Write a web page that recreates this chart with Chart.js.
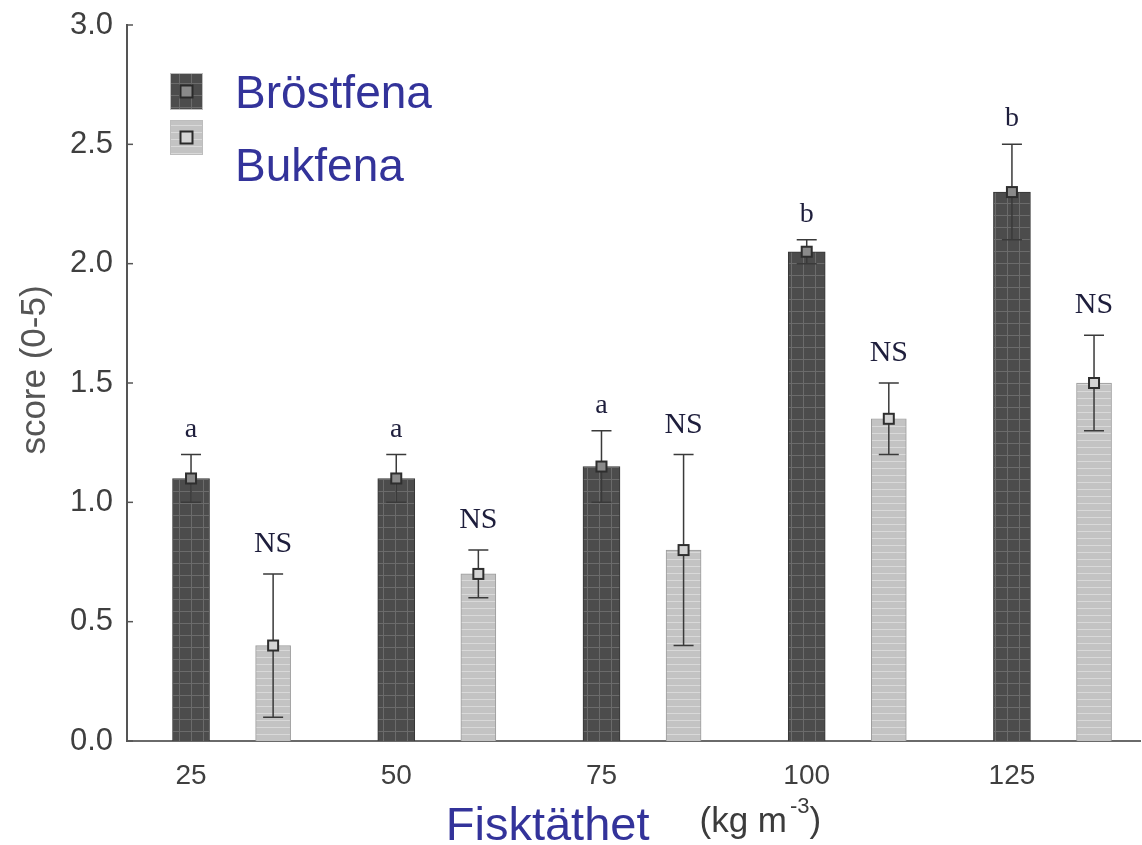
<!DOCTYPE html>
<html>
<head>
<meta charset="utf-8">
<script src="https://cdn.jsdelivr.net/npm/chart.js@4/dist/chart.umd.min.js"></script>
<style>
  html, body { margin: 0; padding: 0; background: #fff; }
  #chart { display: block; }
</style>
</head>
<body>
<canvas id="chart" width="1142" height="845"></canvas>
<script>
// fish density (kg m-3)
const densities = [25, 50, 75, 100, 125];

// pectoral fin (Bröstfena)
const brostMean = [1.1, 1.1, 1.15, 2.05, 2.3];
const brostLow = [1.0, 1.0, 1.0, 2.0, 2.1];
const brostHigh = [1.2, 1.2, 1.3, 2.1, 2.5];
const brostLetters = ["a", "a", "a", "b", "b"];

// pelvic fin (Bukfena)
const bukMean = [0.4, 0.7, 0.8, 1.35, 1.5];
const bukLow = [0.1, 0.6, 0.4, 1.2, 1.3];
const bukHigh = [0.7, 0.8, 1.2, 1.5, 1.7];
const bukLetters = ["NS", "NS", "NS", "NS", "NS"];

const yTicks = [0, 0.5, 1.0, 1.5, 2.0, 2.5, 3.0];

const LIGHT_SHIFT = 10; // pelvic bar sits a bit right of the pectoral one
const BLUE = "#33339a";
const SANS = "'Liberation Sans', Arial, sans-serif";

function makePattern(base, line, size, grid) {
    const c = document.createElement("canvas");
    c.width = size;
    c.height = size;
    const g = c.getContext("2d");
    g.fillStyle = base;
    g.fillRect(0, 0, size, size);
    g.fillStyle = line;
    g.fillRect(0, size - 1, size, 1);
    if (grid) g.fillRect(size - 1, 0, 1, size);
    return document.getElementById("chart").getContext("2d").createPattern(c, "repeat");
}

const darkFill = makePattern("#4c4c4c", "#6b6b6b", 12, true);
const lightFill = makePattern("#c3c3c3", "#d9d9d9", 7, false);

const markerPlugin = {
    id: "errorsAndNotes",
    afterDatasetsDraw(chart) {
        const ctx = chart.ctx;
        const y = chart.scales.y;
        const area = chart.chartArea;
        const sets = [
            { lo: brostLow, hi: brostHigh, mean: brostMean, notes: brostLetters, fill: "#8a8a8a" },
            { lo: bukLow, hi: bukHigh, mean: bukMean, notes: bukLetters, fill: "#d4d4d4" },
        ];

        // small inward ticks on the y axis
        ctx.save();
        ctx.strokeStyle = "#555";
        ctx.lineWidth = 1.5;
        yTicks.forEach((t) => {
            const py = y.getPixelForValue(t);
            ctx.beginPath();
            ctx.moveTo(area.left, py);
            ctx.lineTo(area.left + 6, py);
            ctx.stroke();
        });
        ctx.restore();

        sets.forEach((s, di) => {
            const meta = chart.getDatasetMeta(di);
            meta.data.forEach((bar, i) => {
                const x = bar.x;
                const yLo = y.getPixelForValue(s.lo[i]);
                const yHi = y.getPixelForValue(s.hi[i]);
                const yM = y.getPixelForValue(s.mean[i]);
                ctx.save();
                ctx.strokeStyle = "#3a3a3a";
                ctx.lineWidth = 1.5;
                ctx.beginPath();
                ctx.moveTo(x, yLo);
                ctx.lineTo(x, yHi);
                ctx.moveTo(x - 10, yLo);
                ctx.lineTo(x + 10, yLo);
                ctx.moveTo(x - 10, yHi);
                ctx.lineTo(x + 10, yHi);
                ctx.stroke();

                // mean marker
                ctx.fillStyle = s.fill;
                ctx.lineWidth = 2;
                ctx.strokeStyle = "#2e2e2e";
                ctx.fillRect(x - 5, yM - 5, 10, 10);
                ctx.strokeRect(x - 5, yM - 5, 10, 10);

                // significance letters
                const isNS = s.notes[i] === "NS";
                ctx.fillStyle = "#1e1e3c";
                ctx.textAlign = "center";
                ctx.textBaseline = "alphabetic";
                ctx.font = (isNS ? "30px" : "28px") + " 'Liberation Serif', 'DejaVu Serif', serif";
                ctx.fillText(s.notes[i], x, yHi - (isNS ? 22 : 18));
                ctx.restore();
            });
        });

        // legend
        ctx.save();
        const lx = area.left + 43;
        const items = [
            { label: "Bröstfena", fill: darkFill, inner: "#8a8a8a", top: area.top + 48, h: 37, base: area.top + 83 },
            { label: "Bukfena", fill: lightFill, inner: "#d4d4d4", top: area.top + 95, h: 35, base: area.top + 156 },
        ];
        items.forEach((it) => {
            ctx.fillStyle = it.fill;
            ctx.fillRect(lx, it.top, 33, it.h);
            ctx.strokeStyle = "#bdbdbd";
            ctx.lineWidth = 1;
            ctx.strokeRect(lx + 0.5, it.top + 0.5, 32, it.h - 1);
            const cx = lx + 16.5;
            const cy = it.top + it.h / 2;
            ctx.fillStyle = it.inner;
            ctx.fillRect(cx - 6, cy - 6, 12, 12);
            ctx.strokeStyle = "#2a2a2a";
            ctx.lineWidth = 2;
            ctx.strokeRect(cx - 6, cy - 6, 12, 12);
            ctx.fillStyle = BLUE;
            ctx.font = "46px " + SANS;
            ctx.textAlign = "left";
            ctx.textBaseline = "alphabetic";
            ctx.fillText(it.label, lx + 65, it.base);
        });
        ctx.restore();

        // y axis title
        ctx.save();
        ctx.translate(area.left - 92, area.top + 345);
        ctx.rotate(-Math.PI / 2);
        ctx.fillStyle = "#555";
        ctx.font = "35px " + SANS;
        ctx.textAlign = "center";
        ctx.textBaseline = "middle";
        ctx.fillText("score (0-5)", 0, 0);
        ctx.restore();

        // x axis title, two colours
        ctx.save();
        const big = "47px " + SANS;
        const small = "35px " + SANS;
        const sup = "22px " + SANS;
        ctx.font = big;
        const w1 = ctx.measureText("Fisktäthet").width;
        ctx.font = small;
        const w2 = ctx.measureText("(kg m").width;
        ctx.font = sup;
        const w3 = ctx.measureText("-3").width;
        ctx.font = small;
        const w4 = ctx.measureText(")").width;
        const gap = 50;
        const total = w1 + gap + w2 + 3 + w3 + w4;
        let tx = (area.left + area.right) / 2 - total / 2;
        const base = area.bottom + 99;
        ctx.textAlign = "left";
        ctx.textBaseline = "alphabetic";
        ctx.fillStyle = BLUE;
        ctx.font = big;
        ctx.fillText("Fisktäthet", tx, base);
        tx += w1 + gap;
        ctx.fillStyle = "#3c3c3c";
        ctx.font = small;
        ctx.fillText("(kg m", tx, base - 8);
        tx += w2 + 3;
        ctx.font = sup;
        ctx.fillText("-3", tx, base - 27);
        tx += w3;
        ctx.font = small;
        ctx.fillText(")", tx, base - 8);
        ctx.restore();
    },
};

new Chart(document.getElementById("chart"), {
    type: "bar",
    data: {
        datasets: [
            {
                label: "Bröstfena",
                data: densities.map((d, i) => ({ x: d, y: brostMean[i] })),
                backgroundColor: darkFill,
                borderColor: "#363636",
                borderWidth: 1,
                barThickness: 37,
                grouped: false,
            },
            {
                label: "Bukfena",
                data: densities.map((d, i) => ({ x: d + LIGHT_SHIFT, y: bukMean[i] })),
                backgroundColor: lightFill,
                borderColor: "#9c9c9c",
                borderWidth: 1,
                barThickness: 35,
                grouped: false,
            },
        ],
    },
    options: {
        responsive: false,
        animation: false,
        layout: { padding: { top: 25, right: 2, bottom: 0, left: 0 } },
        plugins: {
            legend: { display: false },
            tooltip: { enabled: false },
        },
        scales: {
            x: {
                type: "linear",
                offset: false,
                min: 17.2,
                max: 140.6,
                afterBuildTicks: (scale) => {
                    scale.ticks = densities.map((d) => ({ value: d }));
                },
                afterFit: (scale) => {
                    scale.height = 104;
                    scale.paddingLeft = 0;
                    scale.paddingRight = 0;
                },
                grid: { display: false, drawTicks: false, offset: false },
                border: { display: true, color: "#6a6a6a", width: 2 },
                ticks: {
                    padding: 18,
                    color: "#3f3f3f",
                    font: { family: SANS, size: 28 },
                    callback: (v) => String(v),
                },
            },
            y: {
                min: 0,
                max: 3,
                afterBuildTicks: (scale) => {
                    scale.ticks = yTicks.map((t) => ({ value: t }));
                },
                afterFit: (scale) => {
                    scale.width = 127;
                    scale.paddingTop = 0;
                    scale.paddingBottom = 0;
                },
                grid: { display: false, drawTicks: false },
                border: { display: true, color: "#555", width: 2 },
                ticks: {
                    padding: 14,
                    color: "#3f3f3f",
                    font: { family: SANS, size: 31 },
                    callback: (v) => Number(v).toFixed(1),
                },
            },
        },
    },
    plugins: [markerPlugin],
});
</script>
</body>
</html>
